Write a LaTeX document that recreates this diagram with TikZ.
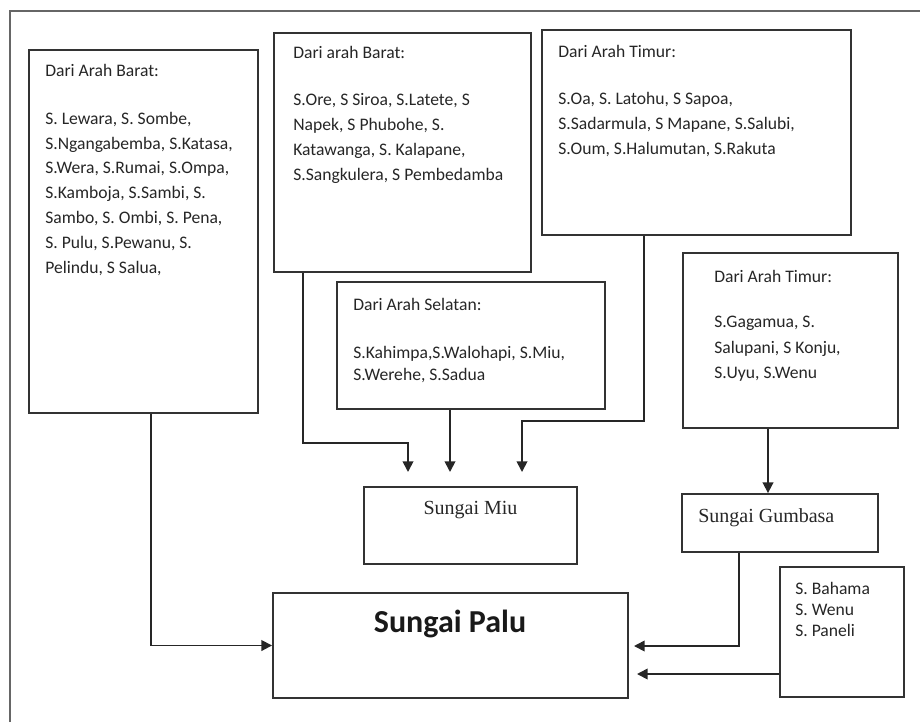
\documentclass[tikz,border=0pt]{standalone}
\usepackage{fontspec}
\setmainfont{Carlito}
\newfontfamily\seriffont{Liberation Serif}
\usetikzlibrary{arrows.meta,fit}
\begin{document}
\begin{tikzpicture}[x=0.75pt,y=-0.75pt,
  box/.style={draw=black!80,line width=1.4pt,inner sep=0pt,rectangle},
  txt/.style={inner sep=0pt,anchor=north west,align=left,text=black!85},
  arr/.style={draw=black!85,line width=1.3pt,-{Triangle[length=8pt,width=8pt]}},
  frame/.style={draw=black!60,line width=1.1pt}]
\useasboundingbox (0,0) rectangle (920,722);
\draw[frame] (10,722) -- (10,11) -- (920,11);

% boxes
\node[box, fit={(29,50) (258,413)}] (b1) {};
\node[box, fit={(274,33) (531,272)}] (b2) {};
\node[box, fit={(542,30) (851,235)}] (b3) {};
\node[box, fit={(337,282) (605,409)}] (b4) {};
\node[box, fit={(683,253) (898,428)}] (b5) {};
\node[box, fit={(364,487) (577,564)}] (miu) {};
\node[box, fit={(682,494) (878,552)}] (gum) {};
\node[box, fit={(273,593) (628,698)}] (palu) {};
\node[box, fit={(780,567) (904,697)}] (bah) {};

% texts
\node[txt, font={\fontsize{13.2}{18.7}\selectfont}] (t1) at (45,64) {Dari Arah Barat:\\[17pt]
S. Lewara, S. Sombe,\\
S.Ngangabemba, S.Katasa,\\
S.Wera, S.Rumai, S.Ompa,\\
S.Kamboja, S.Sambi, S.\\
Sambo, S. Ombi, S. Pena,\\
S. Pulu, S.Pewanu, S.\\
Pelindu, S Salua,};
\node[txt, font={\fontsize{13.2}{18.7}\selectfont}] (t2) at (293,46.5) {Dari arah Barat:\\[16.5pt]
S.Ore, S Siroa, S.Latete, S\\
Napek, S Phubohe, S.\\
Katawanga, S. Kalapane,\\
S.Sangkulera, S Pembedamba};
\node[txt, font={\fontsize{13.2}{18.7}\selectfont}] (t3) at (558,45.5) {Dari Arah Timur:\\[16.5pt]
S.Oa, S. Latohu, S Sapoa,\\
S.Sadarmula, S Mapane, S.Salubi,\\
S.Oum, S.Halumutan, S.Rakuta};
\node[txt, font={\fontsize{13.2}{16.5}\selectfont}] (t4) at (353,298.5) {Dari Arah Selatan:\\[19.5pt]
S.Kahimpa,S.Walohapi, S.Miu,\\
S.Werehe, S.Sadua};
\node[txt, font={\fontsize{13.2}{19.1}\selectfont}] (t5) at (714,270.5) {Dari Arah Timur:\\[14.6pt]
S.Gagamua, S.\\
Salupani, S Konju,\\
S.Uyu, S.Wenu};
\node[txt, font={\fontsize{13.2}{16.1}\selectfont}] (t6) at (795,581.5) {S. Bahama\\
S. Wenu\\
S. Paneli};
\node[inner sep=0pt, anchor=base, text=black!85, font={\seriffont\fontsize{15}{18}\selectfont}] (tmiu) at (470.5,514) {Sungai Miu};
\node[inner sep=0pt, anchor=base west, text=black!85, font={\seriffont\fontsize{15}{18}\selectfont}] (tgum) at (698,522) {Sungai Gumbasa};
\node[inner sep=0pt, anchor=base, text=black!90, font={\bfseries\fontsize{24}{28}\selectfont}] (tpalu) at (450,632) {Sungai Palu};

% connectors
\coordinate (m1) at (408,472);
\coordinate (m2) at (450,472);
\coordinate (m3) at (522,472);
\coordinate (p1) at (634,646);
\coordinate (p2) at (637,674);
\draw[arr] (b1.south -| 151,0) |- (palu.west);
\draw[arr] (b2.south -| 303,0) |- (m1 |- 0,443) -- (m1);
\draw[arr] (b4.south -| m2) -- (m2);
\draw[arr] (b3.south -| 644,0) |- (m3 |- 0,421) -- (m3);
\draw[arr] (b5.south -| 768,0) -- (gum.north -| 768,0);
\draw[arr] (gum.south -| 739,0) |- (p1);
\draw[arr] (bah.west |- p2) -- (p2);
\end{tikzpicture}
\end{document}
